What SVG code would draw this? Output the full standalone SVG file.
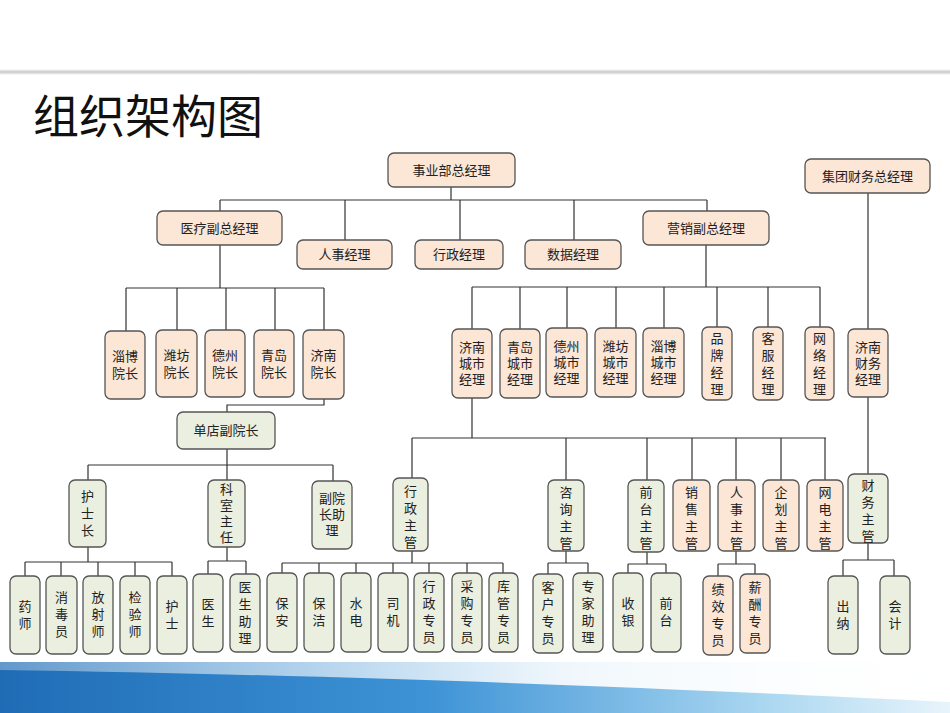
<svg xmlns="http://www.w3.org/2000/svg" width="950" height="713" viewBox="0 0 950 713">
<defs>
<linearGradient id="tl" x1="0" y1="0" x2="0" y2="1"><stop offset="0" stop-color="#fff"/><stop offset="0.5" stop-color="#c8c8c8"/><stop offset="1" stop-color="#fff"/></linearGradient>
<linearGradient id="bb" x1="0" y1="0" x2="1" y2="0"><stop offset="0" stop-color="#1f6cb5"/><stop offset="0.45" stop-color="#3d93d6"/><stop offset="0.8" stop-color="#a9d6f0"/><stop offset="1" stop-color="#e8f4fb"/></linearGradient>
<linearGradient id="bw" x1="0" y1="0" x2="1" y2="0"><stop offset="0" stop-color="#fff" stop-opacity="0.3"/><stop offset="0.6" stop-color="#fff" stop-opacity="0.9"/><stop offset="1" stop-color="#fff"/></linearGradient>
</defs>
<style>
.o{fill:#fce6d6;stroke:#555;stroke-width:1.3}
.g{fill:#ebefdf;stroke:#555;stroke-width:1.3}
text{font-family:"Noto Sans CJK SC","Noto Sans",sans-serif;font-size:13px;fill:#222;text-anchor:middle}
.c path{fill:none;stroke:#333;stroke-width:1.2}
</style>
<rect width="950" height="713" fill="#fff"/>
<rect x="0" y="69" width="950" height="6" fill="url(#tl)"/>
<text x="33" y="133" style="font-size:46px;text-anchor:start;fill:#111">组织架构图</text>
<path d="M0 662 L950 662 L950 713 L0 713 Z" fill="url(#bb)"/>
<path d="M0 655 L950 655 L950 702 C700 690 400 676 0 670 Z" fill="url(#bw)"/>

<g class="c">
<path d="M451 187V200M220 200H707M220 200V211M345 200V240M460 200V240M574 200V240M707 200V211"/>
<path d="M868 193V329"/>
<path d="M220 245V288M126 288H324M126 288V331M177 288V330M226 288V330M275 288V330M324 288V330"/>
<path d="M324 399V405H227V412"/>
<path d="M227 449V465M88 465H333M88 465V480M227 465V480M333 465V481"/>
<path d="M88 547V562M25 562H172M25 562V576M61 562V576M98 562V576M135 562V576M172 562V576"/>
<path d="M227 547V561M208 561H246M208 561V574M246 561V574"/>
<path d="M706 245V287M472 287H820M472 287V329M520 287V329M567 287V329M616 287V329M664 287V329M717 287V327M768 287V327M820 287V327"/>
<path d="M472 398V438M412 438H826M412 438V478M566 438V480M647 438V480M692 438V480M736 438V480M781 438V480M825 438V480"/>
<path d="M868 397V474"/>
<path d="M412 551V563M282 563H503M282 563V573M319 563V573M356 563V573M393 563V573M429 563V573M467 563V573M503 563V573"/>
<path d="M566 551V563M548 563H588M548 563V574M588 563V574"/>
<path d="M647 551V564M628 564H666M628 564V573M666 564V573"/>
<path d="M736 551V564M718 564H755M718 564V576M755 564V576"/>
<path d="M868 543V560M843 560H894M843 560V576M894 560V576"/>
</g>

<g id="n0"><rect class="o" x="388" y="153" width="127" height="34" rx="6"/><text x="451.5" y="175">事业部总经理</text></g>
<g id="jt"><rect class="o" x="805" y="159" width="125" height="34" rx="6"/><text x="867.5" y="181">集团财务总经理</text></g>
<g id="yl"><rect class="o" x="157" y="211" width="125" height="34" rx="6"/><text x="219.5" y="233">医疗副总经理</text></g>
<g id="rs"><rect class="o" x="297" y="240" width="95" height="29" rx="6"/><text x="344.5" y="259">人事经理</text></g>
<g id="xz"><rect class="o" x="415" y="240" width="88" height="29" rx="6"/><text x="459" y="259">行政经理</text></g>
<g id="sj"><rect class="o" x="525" y="240" width="96" height="29" rx="6"/><text x="573" y="259">数据经理</text></g>
<g id="yx"><rect class="o" x="643" y="211" width="126" height="34" rx="6"/><text x="706" y="233">营销副总经理</text></g>

<g id="h1"><rect class="o" x="105" y="331" width="40" height="68" rx="6"/><text x="125" y="361">淄博</text><text x="125" y="378">院长</text></g>
<g id="h2"><rect class="o" x="156" y="330" width="41" height="67" rx="6"/><text x="176.5" y="360">潍坊</text><text x="176.5" y="377">院长</text></g>
<g id="h3"><rect class="o" x="205" y="330" width="40" height="67" rx="6"/><text x="225" y="360">德州</text><text x="225" y="377">院长</text></g>
<g id="h4"><rect class="o" x="254" y="330" width="40" height="67" rx="6"/><text x="274" y="360">青岛</text><text x="274" y="377">院长</text></g>
<g id="h5"><rect class="o" x="303" y="330" width="41" height="69" rx="6"/><text x="323.5" y="360">济南</text><text x="323.5" y="377">院长</text></g>

<g id="dd"><rect class="g" x="177" y="412" width="98" height="37" rx="6"/><text x="226" y="435">单店副院长</text></g>
<g id="hsz"><rect class="g" x="69" y="480" width="37" height="67" rx="6"/><text x="87.5" y="501">护</text><text x="87.5" y="518">士</text><text x="87.5" y="535">长</text></g>
<g id="ks"><rect class="g" x="208" y="480" width="37" height="67" rx="6"/><text x="226.5" y="494">科</text><text x="226.5" y="510">室</text><text x="226.5" y="526">主</text><text x="226.5" y="542">任</text></g>
<g id="fyz"><rect class="g" x="312" y="481" width="40" height="68" rx="6"/><text x="332" y="503">副院</text><text x="332" y="519">长助</text><text x="332" y="535">理</text></g>

<g id="b1"><rect class="g" x="10" y="576" width="30" height="78" rx="6"/><text x="25" y="611">药</text><text x="25" y="628">师</text></g>
<g id="b2"><rect class="g" x="46" y="576" width="31" height="78" rx="6"/><text x="61.5" y="602">消</text><text x="61.5" y="619">毒</text><text x="61.5" y="636">员</text></g>
<g id="b3"><rect class="g" x="83" y="576" width="30" height="78" rx="6"/><text x="98" y="602">放</text><text x="98" y="619">射</text><text x="98" y="636">师</text></g>
<g id="b4"><rect class="g" x="120" y="576" width="30" height="78" rx="6"/><text x="135" y="602">检</text><text x="135" y="619">验</text><text x="135" y="636">师</text></g>
<g id="b5"><rect class="g" x="157" y="576" width="30" height="78" rx="6"/><text x="172" y="611">护</text><text x="172" y="628">士</text></g>
<g id="b6"><rect class="g" x="193" y="574" width="30" height="78" rx="6"/><text x="208" y="609">医</text><text x="208" y="626">生</text></g>
<g id="b7"><rect class="g" x="230" y="574" width="30" height="78" rx="6"/><text x="245" y="592">医</text><text x="245" y="609">生</text><text x="245" y="626">助</text><text x="245" y="643">理</text></g>

<g id="m1"><rect class="o" x="452" y="329" width="40" height="69" rx="6"/><text x="472" y="352">济南</text><text x="472" y="368">城市</text><text x="472" y="384">经理</text></g>
<g id="m2"><rect class="o" x="500" y="329" width="40" height="69" rx="6"/><text x="520" y="352">青岛</text><text x="520" y="368">城市</text><text x="520" y="384">经理</text></g>
<g id="m3"><rect class="o" x="546" y="328" width="41" height="69" rx="6"/><text x="566.5" y="351">德州</text><text x="566.5" y="367">城市</text><text x="566.5" y="383">经理</text></g>
<g id="m4"><rect class="o" x="595" y="328" width="41" height="69" rx="6"/><text x="615.5" y="351">潍坊</text><text x="615.5" y="367">城市</text><text x="615.5" y="383">经理</text></g>
<g id="m5"><rect class="o" x="643" y="328" width="41" height="69" rx="6"/><text x="663.5" y="351">淄博</text><text x="663.5" y="367">城市</text><text x="663.5" y="383">经理</text></g>
<g id="m6"><rect class="o" x="702" y="327" width="30" height="73" rx="6"/><text x="717" y="343">品</text><text x="717" y="360">牌</text><text x="717" y="377">经</text><text x="717" y="394">理</text></g>
<g id="m7"><rect class="o" x="753" y="327" width="30" height="73" rx="6"/><text x="768" y="343">客</text><text x="768" y="360">服</text><text x="768" y="377">经</text><text x="768" y="394">理</text></g>
<g id="m8"><rect class="o" x="805" y="327" width="29" height="73" rx="6"/><text x="819.5" y="343">网</text><text x="819.5" y="360">络</text><text x="819.5" y="377">经</text><text x="819.5" y="394">理</text></g>
<g id="cw"><rect class="o" x="848" y="329" width="40" height="68" rx="6"/><text x="868" y="352">济南</text><text x="868" y="368">财务</text><text x="868" y="384">经理</text></g>

<g id="s1"><rect class="g" x="393" y="478" width="35" height="73" rx="6"/><text x="410.5" y="496">行</text><text x="410.5" y="513">政</text><text x="410.5" y="530">主</text><text x="410.5" y="547">管</text></g>
<g id="s2"><rect class="g" x="548" y="480" width="36" height="71" rx="6"/><text x="566" y="497">咨</text><text x="566" y="514">询</text><text x="566" y="531">主</text><text x="566" y="548">管</text></g>
<g id="s3"><rect class="g" x="628" y="480" width="36" height="72" rx="6"/><text x="646" y="497">前</text><text x="646" y="514">台</text><text x="646" y="531">主</text><text x="646" y="548">管</text></g>
<g id="s4"><rect class="o" x="673" y="480" width="37" height="71" rx="6"/><text x="691.5" y="497">销</text><text x="691.5" y="514">售</text><text x="691.5" y="531">主</text><text x="691.5" y="548">管</text></g>
<g id="s5"><rect class="o" x="718" y="480" width="37" height="71" rx="6"/><text x="736.5" y="497">人</text><text x="736.5" y="514">事</text><text x="736.5" y="531">主</text><text x="736.5" y="548">管</text></g>
<g id="s6"><rect class="o" x="763" y="480" width="36" height="71" rx="6"/><text x="781" y="497">企</text><text x="781" y="514">划</text><text x="781" y="531">主</text><text x="781" y="548">管</text></g>
<g id="s7"><rect class="o" x="807" y="480" width="36" height="71" rx="6"/><text x="825" y="497">网</text><text x="825" y="514">电</text><text x="825" y="531">主</text><text x="825" y="548">管</text></g>
<g id="s8"><rect class="g" x="848" y="474" width="40" height="69" rx="6"/><text x="868" y="490">财</text><text x="868" y="507">务</text><text x="868" y="524">主</text><text x="868" y="541">管</text></g>

<g id="e1"><rect class="g" x="267" y="573" width="30" height="79" rx="6"/><text x="282" y="608">保</text><text x="282" y="625">安</text></g>
<g id="e2"><rect class="g" x="304" y="573" width="30" height="79" rx="6"/><text x="319" y="608">保</text><text x="319" y="625">洁</text></g>
<g id="e3"><rect class="g" x="341" y="573" width="30" height="79" rx="6"/><text x="356" y="608">水</text><text x="356" y="625">电</text></g>
<g id="e4"><rect class="g" x="378" y="573" width="30" height="79" rx="6"/><text x="393" y="608">司</text><text x="393" y="625">机</text></g>
<g id="e5"><rect class="g" x="414" y="573" width="30" height="79" rx="6"/><text x="429" y="591">行</text><text x="429" y="608">政</text><text x="429" y="625">专</text><text x="429" y="642">员</text></g>
<g id="e6"><rect class="g" x="452" y="573" width="30" height="79" rx="6"/><text x="467" y="591">采</text><text x="467" y="608">购</text><text x="467" y="625">专</text><text x="467" y="642">员</text></g>
<g id="e7"><rect class="g" x="489" y="573" width="29" height="79" rx="6"/><text x="503.5" y="591">库</text><text x="503.5" y="608">管</text><text x="503.5" y="625">专</text><text x="503.5" y="642">员</text></g>
<g id="e8"><rect class="g" x="533" y="574" width="30" height="79" rx="6"/><text x="548" y="592">客</text><text x="548" y="609">户</text><text x="548" y="626">专</text><text x="548" y="643">员</text></g>
<g id="e9"><rect class="g" x="573" y="573" width="30" height="79" rx="6"/><text x="588" y="591">专</text><text x="588" y="608">家</text><text x="588" y="625">助</text><text x="588" y="642">理</text></g>
<g id="e10"><rect class="g" x="613" y="573" width="30" height="79" rx="6"/><text x="628" y="608">收</text><text x="628" y="625">银</text></g>
<g id="e11"><rect class="g" x="651" y="573" width="30" height="79" rx="6"/><text x="666" y="608">前</text><text x="666" y="625">台</text></g>
<g id="e12"><rect class="o" x="703" y="576" width="30" height="79" rx="6"/><text x="718" y="594">绩</text><text x="718" y="611">效</text><text x="718" y="628">专</text><text x="718" y="645">员</text></g>
<g id="e13"><rect class="o" x="740" y="574" width="30" height="79" rx="6"/><text x="755" y="592">薪</text><text x="755" y="609">酬</text><text x="755" y="626">专</text><text x="755" y="643">员</text></g>
<g id="e14"><rect class="g" x="828" y="576" width="30" height="78" rx="6"/><text x="843" y="611">出</text><text x="843" y="628">纳</text></g>
<g id="e15"><rect class="g" x="880" y="576" width="30" height="78" rx="6"/><text x="895" y="611">会</text><text x="895" y="628">计</text></g>
</svg>
